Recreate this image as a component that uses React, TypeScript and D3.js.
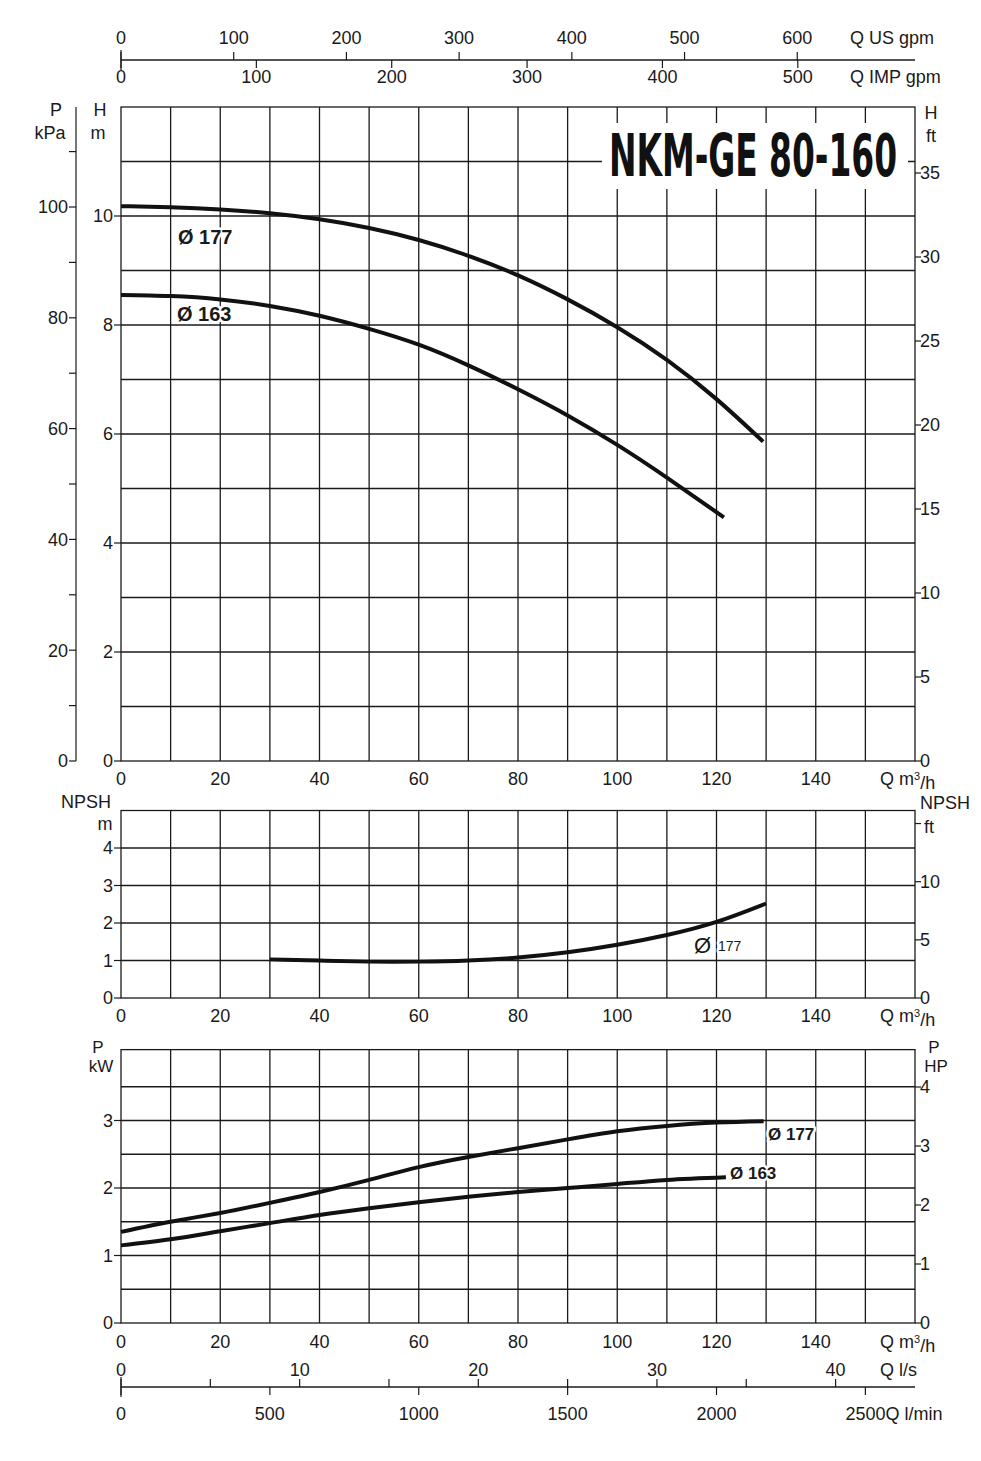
import * as React from "react";
import { line, curveNatural, range, scaleLinear } from "d3";

// flow axis (m3/h)
const qTicks = [0, 20, 40, 60, 80, 100, 120, 140];
const usGpmTicks = [0, 100, 200, 300, 400, 500, 600];
const impGpmTicks = [0, 100, 200, 300, 400, 500];
const lsTicks = [0, 10, 20, 30, 40];
const lsMinor = [5, 15, 25, 35];
const lminTicks = [0, 500, 1000, 1500, 2000, 2500];

// head curves (Q m3/h, H m)
const q177 = [0, 10, 20, 30, 40, 50, 60, 70, 80, 90, 100, 110, 120, 129.4];
const h177 = [10.18, 10.16, 10.12, 10.05, 9.94, 9.78, 9.56, 9.27, 8.91, 8.47, 7.96, 7.36, 6.64, 5.86];
const q163 = [0, 10, 20, 30, 40, 50, 60, 70, 80, 90, 100, 110, 121.5];
const h163 = [8.55, 8.53, 8.47, 8.35, 8.17, 7.93, 7.64, 7.26, 6.82, 6.34, 5.8, 5.2, 4.47];

// NPSH curve
const qNpsh = [30, 40, 50, 60, 70, 80, 90, 100, 110, 120, 130];
const npsh177 = [1.03, 1.0, 0.97, 0.97, 1.0, 1.08, 1.22, 1.42, 1.68, 2.03, 2.52];

// power curves (kW)
const qP177 = [0, 10, 20, 30, 40, 50, 60, 70, 80, 90, 100, 110, 120, 129.5];
const p177 = [1.35, 1.5, 1.63, 1.78, 1.94, 2.12, 2.31, 2.46, 2.59, 2.72, 2.84, 2.92, 2.97, 2.99];
const qP163 = [0, 10, 20, 30, 40, 50, 60, 70, 80, 90, 100, 110, 121.9];
const p163 = [1.15, 1.24, 1.36, 1.48, 1.6, 1.7, 1.79, 1.87, 1.94, 2.0, 2.06, 2.12, 2.16];

const hMTicks = [0, 2, 4, 6, 8, 10];
const kPaTicks = [0, 20, 40, 60, 80, 100];
const ftTicks = [0, 5, 10, 15, 20, 25, 30, 35];
const npshMTicks = [0, 1, 2, 3, 4];
const npshFtTicks = [0, 5, 10];
const kWTicks = [0, 1, 2, 3];
const hpTicks = [0, 1, 2, 3, 4];

const FONT = "'Liberation Sans', Arial, sans-serif";
const NARROW = "'Liberation Sans Narrow', 'Liberation Sans', Arial, sans-serif";
const INK = "#1a1a1a";

export default function App() {
  const x = scaleLinear().domain([0, 160]).range([121, 915]);
  const hY = scaleLinear().domain([0, 12]).range([761, 107]);
  const kPaY = scaleLinear().domain([0, 100]).range([761, 207]);
  const ftY = scaleLinear().domain([0, 35]).range([761, 173]);
  const nY = scaleLinear().domain([0, 5]).range([998, 810.5]);
  const nFtY = scaleLinear().domain([0, 10]).range([998, 881.7]);
  const pY = scaleLinear().domain([0, 3]).range([1323, 1120.5]);
  const hpY = scaleLinear().domain([0, 4]).range([1323, 1087]);
  const pTop = pY(4.05);

  const x0 = x(0), x1 = x(160);
  const gridCols = range(10, 160, 10);

  const mk = (ys: (v: number) => number) =>
    line<[number, number]>()
      .x((d) => x(d[0]))
      .y((d) => ys(d[1]))
      .curve(curveNatural);

  const zip = (a: number[], b: number[]) => a.map((v, i) => [v, b[i]] as [number, number]);

  const grid = (top: number, bottom: number, rows: number[]) => (
    <g stroke={INK} strokeWidth={1.3} fill="none">
      {gridCols.map((c) => (
        <line key={"c" + c} x1={x(c)} x2={x(c)} y1={top} y2={bottom} />
      ))}
      {rows.map((r, i) => (
        <line key={"r" + i} x1={x0} x2={x1} y1={r} y2={r} />
      ))}
      <rect x={x0} y={top} width={x1 - x0} height={bottom - top} />
    </g>
  );

  const leftTicks = (ticks: number[], ys: (v: number) => number, ax: number, lx: number) =>
    ticks.map((t) => (
      <g key={t}>
        <line x1={ax - 7} x2={ax} y1={ys(t)} y2={ys(t)} stroke={INK} strokeWidth={1.2} />
        <text x={lx} y={ys(t)} dy="0.36em" textAnchor="end">{t}</text>
      </g>
    ));

  const rightTicks = (ticks: number[], ys: (v: number) => number) =>
    ticks.map((t) => (
      <g key={t}>
        <line x1={x1} x2={x1 + 6} y1={ys(t)} y2={ys(t)} stroke={INK} strokeWidth={1.2} />
        <text x={x1 + 5} y={ys(t)} dy="0.36em">{t}</text>
      </g>
    ));

  const qLabels = (yy: number) => (
    <g>
      {qTicks.map((t) => (
        <text key={t} x={x(t)} y={yy} dy="0.36em" textAnchor="middle">{t}</text>
      ))}
      <text x={880} y={yy} dy="0.36em">
        Q m<tspan fontSize={11} dy="-0.5em">3</tspan><tspan dy="0.5em">/h</tspan>
      </text>
    </g>
  );

  const halo = { stroke: "white", strokeWidth: 5, paintOrder: "stroke" as const, strokeLinejoin: "round" as const };

  const usX = (g: number) => x(g / 4.4029);
  const impX = (g: number) => x(g / 3.6662);
  const lsX = (v: number) => x(v * 3.6);
  const lminX = (v: number) => x(v * 0.06);

  const hRows = range(1, 12).map((v) => hY(v));
  const nRows = range(1, 5).map((v) => nY(v));
  const pRows = range(0.5, 3.51, 0.5).map((v) => pY(v));

  return (
    <svg
      width={981}
      height={1461}
      style={{ position: "absolute", left: 0, top: 0, background: "white" }}
      fontFamily={FONT}
      fontSize={18}
      fill={INK}
    >
      <rect width={981} height={1461} fill="white" />

      {/* top flow axes */}
      <g fontFamily={NARROW} fontSize={18}>
        <line x1={x0} x2={x1} y1={60} y2={60} stroke={INK} strokeWidth={1.3} />
        <line x1={x0} x2={x0} y1={50} y2={70} stroke={INK} strokeWidth={1.2} />
        {usGpmTicks.map((t) => (
          <g key={"us" + t}>
            <line x1={usX(t)} x2={usX(t)} y1={52} y2={60} stroke={INK} strokeWidth={1.2} />
            <text x={usX(t)} y={38} dy="0.36em" textAnchor="middle">{t}</text>
          </g>
        ))}
        {impGpmTicks.map((t) => (
          <g key={"imp" + t}>
            <line x1={impX(t)} x2={impX(t)} y1={60} y2={68} stroke={INK} strokeWidth={1.2} />
            <text x={impX(t)} y={77} dy="0.36em" textAnchor="middle">{t}</text>
          </g>
        ))}
        <text x={850} y={38} dy="0.36em">Q US gpm</text>
        <text x={850} y={77} dy="0.36em">Q IMP gpm</text>
      </g>

      {/* head panel */}
      {grid(hY(12), hY(0), hRows)}
      <rect x={602} y={123} width={306} height={66} fill="white" />
      <text
        x={609}
        y={176}
        fontFamily="'DejaVu Sans Condensed', 'DejaVu Sans', sans-serif"
        fontWeight="bold"
        fontSize={58}
        textLength={288}
        lengthAdjust="spacingAndGlyphs"
        fill="#111"
      >
        NKM-GE 80-160
      </text>
      <line x1={76} x2={76} y1={hY(12)} y2={hY(0)} stroke={INK} strokeWidth={1.2} />
      {range(10, 120, 20).map((t) => (
        <line key={"kmin" + t} x1={69} x2={76} y1={kPaY(t)} y2={kPaY(t)} stroke={INK} strokeWidth={1.2} />
      ))}
      {leftTicks(kPaTicks, kPaY, 76, 68)}
      {leftTicks(hMTicks, hY, 121, 113)}
      {rightTicks(ftTicks, ftY)}
      <text x={56} y={110} dy="0.36em" textAnchor="middle">P</text>
      <text x={50} y={133} dy="0.36em" textAnchor="middle">kPa</text>
      <text x={100} y={110} dy="0.36em" textAnchor="middle">H</text>
      <text x={98} y={133} dy="0.36em" textAnchor="middle">m</text>
      <text x={931} y={113} dy="0.36em" textAnchor="middle">H</text>
      <text x={931} y={136} dy="0.36em" textAnchor="middle">ft</text>
      <g fill="none" stroke="#111" strokeWidth={4}>
        <path d={mk(hY)(zip(q177, h177)) ?? ""} />
        <path d={mk(hY)(zip(q163, h163)) ?? ""} />
      </g>
      <g fontWeight="bold" fontSize={20} {...halo}>
        <text x={178} y={237} dy="0.36em">Ø 177</text>
        <text x={177} y={314} dy="0.36em">Ø 163</text>
      </g>
      {qLabels(779)}

      {/* NPSH panel */}
      {grid(nY(5), nY(0), nRows)}
      {leftTicks(npshMTicks, nY, 121, 113)}
      {rightTicks(npshFtTicks, nFtY)}
      <line x1={x1} x2={x1 + 6} y1={nFtY(15)} y2={nFtY(15)} stroke={INK} strokeWidth={1.2} />
      <text x={86} y={802} dy="0.36em" textAnchor="middle">NPSH</text>
      <text x={105} y={824} dy="0.36em" textAnchor="middle">m</text>
      <text x={945} y={803} dy="0.36em" textAnchor="middle">NPSH</text>
      <text x={929} y={827} dy="0.36em" textAnchor="middle">ft</text>
      <path d={mk(nY)(zip(qNpsh, npsh177)) ?? ""} fill="none" stroke="#111" strokeWidth={4} />
      <g {...halo}>
        <text x={694} y={945} dy="0.36em" fontSize={22}>Ø</text>
        <text x={718} y={946} dy="0.36em" fontSize={14}>177</text>
      </g>
      {qLabels(1016)}

      {/* power panel */}
      {grid(pTop, pY(0), pRows)}
      {leftTicks(kWTicks, pY, 121, 113)}
      {rightTicks(hpTicks, hpY)}
      <g fontSize={17}>
        <text x={98} y={1047} dy="0.36em" textAnchor="middle">P</text>
        <text x={101} y={1066} dy="0.36em" textAnchor="middle">kW</text>
        <text x={934} y={1047} dy="0.36em" textAnchor="middle">P</text>
        <text x={936} y={1066} dy="0.36em" textAnchor="middle">HP</text>
      </g>
      <g fill="none" stroke="#111" strokeWidth={4}>
        <path d={mk(pY)(zip(qP177, p177)) ?? ""} />
        <path d={mk(pY)(zip(qP163, p163)) ?? ""} />
      </g>
      <g fontWeight="bold" fontSize={17} {...halo}>
        <text x={768} y={1134} dy="0.36em">Ø 177</text>
        <text x={730} y={1173} dy="0.36em">Ø 163</text>
      </g>
      {qLabels(1342)}

      {/* bottom flow axes */}
      <g fontFamily={NARROW} fontSize={18}>
        <line x1={x0} x2={x1} y1={1387} y2={1387} stroke={INK} strokeWidth={1.3} />
        <line x1={x0} x2={x0} y1={1377} y2={1397} stroke={INK} strokeWidth={1.2} />
        {lsTicks.concat(lsMinor).map((t) => (
          <line key={"ls" + t} x1={lsX(t)} x2={lsX(t)} y1={1379} y2={1387} stroke={INK} strokeWidth={1.2} />
        ))}
        {lsTicks.map((t) => (
          <text key={"lst" + t} x={lsX(t)} y={1370} dy="0.36em" textAnchor="middle">{t}</text>
        ))}
        {lminTicks.map((t) => (
          <g key={"lm" + t}>
            <line x1={lminX(t)} x2={lminX(t)} y1={1387} y2={1395} stroke={INK} strokeWidth={1.2} />
            <text x={lminX(t)} y={1414} dy="0.36em" textAnchor={t === 2500 ? "start" : "middle"} dx={t === 2500 ? -20 : 0}>
              {t === 2500 ? "2500Q l/min" : t}
            </text>
          </g>
        ))}
        <text x={880} y={1370} dy="0.36em">Q l/s</text>
      </g>
    </svg>
  );
}
